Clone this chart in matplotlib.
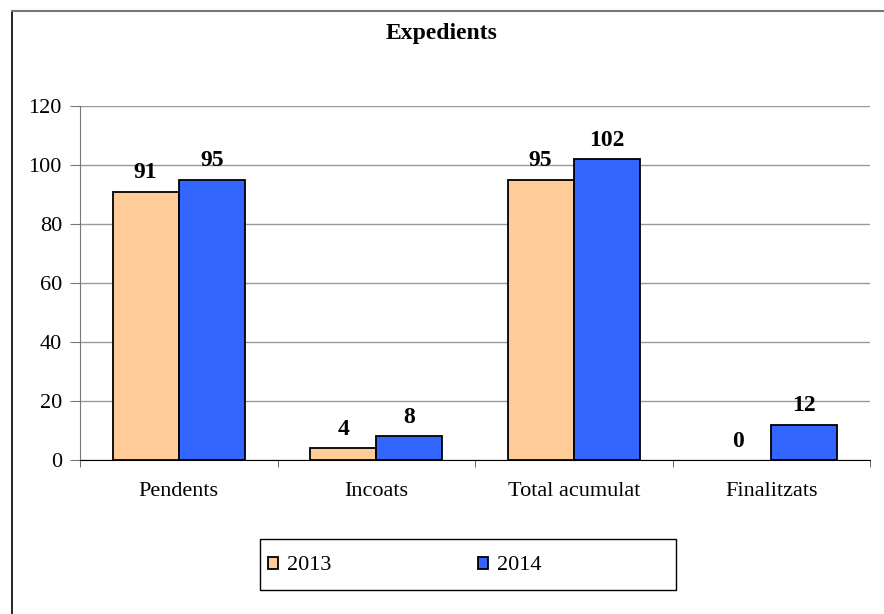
import matplotlib
matplotlib.use("Agg")
import matplotlib.pyplot as plt
from matplotlib.lines import Line2D
from matplotlib.patches import Rectangle
import numpy as np

# Daten
categories = ["Pendents", "Incoats", "Total acumulat", "Finalitzats"]
years = ["2013", "2014"]
values_2013 = [91, 4, 95, 0]
values_2014 = [95, 8, 102, 12]
colors = ["#FFCC99", "#3366FF"]

plt.rcParams["font.family"] = ["Liberation Serif", "DejaVu Serif"]

fig = plt.figure(figsize=(8.84, 6.14), dpi=100)
ax = fig.add_axes([80 / 884, 1 - 460 / 614, 790 / 884, 354 / 614])

x = np.arange(len(categories))
w = 0.335
bars = []
for i, (vals, col, yr) in enumerate(zip([values_2013, values_2014], colors, years)):
    b = ax.bar(x + (i - 0.5) * w, vals, width=w, color=col, edgecolor="black",
               linewidth=1.3, label=yr, zorder=3)
    # Balken mit Hoehe 0 ohne Rand
    for patch, v in zip(b, vals):
        if v == 0:
            patch.set_linewidth(0)
    bars.append(b)
    for xi, v in zip(x + (i - 0.5) * w, vals):
        ax.annotate(str(v), (xi, v), xytext=(0, 6), textcoords="offset points",
                    ha="center", va="bottom", fontsize=17, fontweight="bold")

ax.set_xlim(-0.5, len(categories) - 0.5)
ax.set_ylim(0, 120)
ax.set_yticks(range(0, 121, 20))
ax.yaxis.grid(True, color="#999999", linewidth=1, zorder=0)
ax.set_axisbelow(True)

ax.set_xticks(x)
ax.set_xticklabels(categories, fontsize=16)
ax.set_xticks(np.arange(-0.5, len(categories), 1), minor=True)
ax.tick_params(axis="x", which="major", length=0, pad=16)
ax.tick_params(axis="x", which="minor", length=5, color="#555555", direction="out")
ax.tick_params(axis="y", labelsize=16, length=7, color="#777777", pad=6)

for s in ["top", "right"]:
    ax.spines[s].set_visible(False)
ax.spines["left"].set_color("#777777")
ax.spines["bottom"].set_color("black")

fig.text(442 / 884, 1 - 33 / 614, "Expedients", ha="center", va="center",
         fontsize=17, fontweight="bold")

# Legende: Rahmen separat, Eintraege links
fig.add_artist(Rectangle((260 / 884, 1 - 590 / 614), 416 / 884, 51 / 614,
                         transform=fig.transFigure, fill=False,
                         edgecolor="black", linewidth=1))
leg = fig.legend(handles=bars, labels=years, ncol=2,
                 loc="center left", bbox_to_anchor=(268 / 884, 1 - 566 / 614),
                 fontsize=16, frameon=False,
                 handlelength=0.45, handleheight=0.45, handletextpad=0.4,
                 columnspacing=6.6, borderpad=0, borderaxespad=0)

# Rahmen aussen
fig.add_artist(Line2D([12 / 884, 12 / 884], [0, 1 - 11 / 614], color="black", lw=1.2))
fig.add_artist(Line2D([12 / 884, 1], [1 - 11 / 614, 1 - 11 / 614], color="#777777", lw=1.5))

fig.savefig("out.png", dpi=100)
